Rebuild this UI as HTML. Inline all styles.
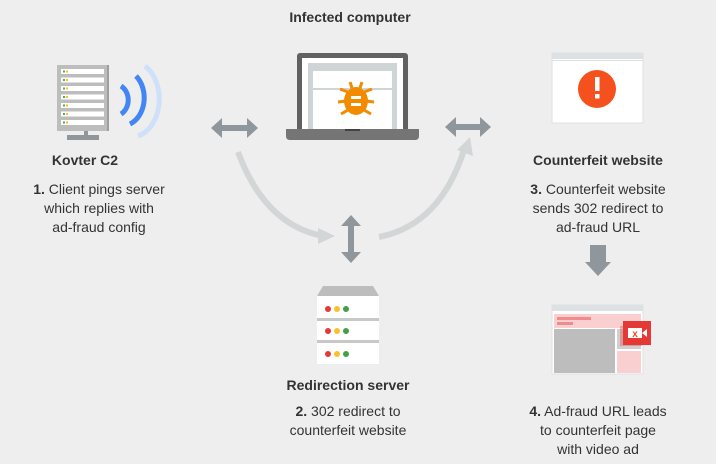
<!DOCTYPE html>
<html><head><meta charset="utf-8"><style>
html,body{margin:0;padding:0;background:#eeeeee;}
svg{display:block;font-family:"Liberation Sans",sans-serif;}
</style></head><body>
<svg width="716" height="464" viewBox="0 0 716 464">
<rect width="716" height="464" fill="#eeeeee"/>
<g fill="#333" font-size="14" text-anchor="middle">
<text x="350" y="22" font-weight="bold">Infected computer</text>
<text x="85" y="165" font-weight="bold">Kovter C2</text>
<text x="99" y="194"><tspan font-weight="bold">1.</tspan> Client pings server</text>
<text x="99" y="213">which replies with</text>
<text x="99" y="232">ad-fraud config</text>
<text x="598" y="165" font-weight="bold">Counterfeit website</text>
<text x="598" y="194"><tspan font-weight="bold">3.</tspan> Counterfeit website</text>
<text x="598" y="213">sends 302 redirect to</text>
<text x="598" y="232">ad-fraud URL</text>
<text x="348" y="390" font-weight="bold">Redirection server</text>
<text x="348" y="416"><tspan font-weight="bold">2.</tspan> 302 redirect to</text>
<text x="348" y="435">counterfeit website</text>
<text x="598" y="416"><tspan font-weight="bold">4.</tspan> Ad-fraud URL leads</text>
<text x="598" y="435">to counterfeit page</text>
<text x="598" y="454">with video ad</text>
</g>
<!-- Kovter server -->
<rect x="57" y="65" width="52" height="66" fill="#bdbdbd"/>
<rect x="107" y="65" width="2" height="66" fill="#9e9e9e"/>
<g fill="#fff">
<rect x="61" y="69" width="43" height="5"/><rect x="61" y="77.5" width="43" height="5"/><rect x="61" y="86" width="43" height="5"/><rect x="61" y="94.5" width="43" height="5"/><rect x="61" y="103" width="43" height="5"/><rect x="61" y="111.5" width="43" height="5"/><rect x="61" y="120" width="43" height="5"/>
</g>
<g fill="#4caf50"><rect x="63" y="70.5" width="2" height="2"/><rect x="63" y="79" width="2" height="2"/><rect x="63" y="87.5" width="2" height="2"/><rect x="63" y="96" width="2" height="2"/><rect x="63" y="104.5" width="2" height="2"/><rect x="63" y="113" width="2" height="2"/><rect x="63" y="121.5" width="2" height="2"/></g>
<g fill="#fbc02d"><rect x="66" y="70.5" width="2" height="2"/><rect x="66" y="79" width="2" height="2"/><rect x="66" y="87.5" width="2" height="2"/><rect x="66" y="96" width="2" height="2"/><rect x="66" y="104.5" width="2" height="2"/><rect x="66" y="113" width="2" height="2"/><rect x="66" y="121.5" width="2" height="2"/></g>
<rect x="84" y="131" width="4" height="6" fill="#8f969c"/>
<rect x="67" y="135" width="32" height="5" fill="#8f969c"/>
<!-- waves -->
<g fill="none" stroke-linecap="butt">
<path d="M121 86 A14 16 0 0 1 121 114" stroke="#4285f4" stroke-width="5"/>
<path d="M136 76 A22 28 0 0 1 130 124" stroke="#4285f4" stroke-width="5"/>
<path d="M145 66 A28 38 0 0 1 138 136" stroke="#cfe0fb" stroke-width="5"/>
</g>
<!-- horizontal arrows -->
<g fill="#8f969c">
<path d="M211 128 L222 118 L222 125 L247 125 L247 118 L258 128 L247 138 L247 131 L222 131 L222 138 Z"/>
<path d="M445 127 L456 117 L456 124 L480 124 L480 117 L491 127 L480 137 L480 130 L456 130 L456 137 Z"/>
<path d="M351 215 L361 226 L354 226 L354 252 L361 252 L351 263 L341 252 L348 252 L348 226 L341 226 Z"/>
<path d="M590 245 L606 245 L606 262 L611 262 L598 276 L585 262 L590 262 Z"/>
</g>
<!-- laptop -->
<rect x="297" y="53" width="111" height="80" rx="3" fill="#616161"/>
<rect x="302" y="58" width="101" height="72" fill="#fff"/>
<rect x="308" y="63" width="89" height="67" fill="#cfd4d6"/>
<rect x="313" y="71" width="79" height="59" fill="#fff"/>
<rect x="313" y="88" width="79" height="2" fill="#cfd4d6"/>
<path d="M286 129 L419 129 L419 136 Q419 140 415 140 L290 140 Q286 140 286 136 Z" fill="#757575"/>
<rect x="345" y="129" width="15" height="2" fill="#424242"/>
<!-- bug -->
<g fill="#f28b00">
<ellipse cx="356" cy="101" rx="12" ry="14"/>
<g stroke="#f28b00" stroke-width="3">
<line x1="348" y1="92" x2="340" y2="89"/><line x1="364" y1="92" x2="372" y2="89"/>
<line x1="346" y1="101" x2="338" y2="102"/><line x1="366" y1="101" x2="374" y2="102"/>
<line x1="348" y1="110" x2="341" y2="114"/><line x1="364" y1="110" x2="371" y2="114"/>
<line x1="352" y1="88" x2="350" y2="82"/><line x1="360" y1="88" x2="362" y2="82"/>
</g>
<rect x="351" y="96" width="10" height="3" fill="#fff"/>
<rect x="351" y="103" width="10" height="3" fill="#fff"/>
</g>
<!-- counterfeit browser -->
<rect x="552" y="53" width="91" height="70" fill="#fff" stroke="#dde1e3" stroke-width="1"/>
<rect x="552" y="53" width="91" height="6" fill="#dde1e3"/>
<rect x="552" y="60" width="91" height="1" fill="#dde1e3"/>
<circle cx="597" cy="89" r="19" fill="#f4511e"/>
<rect x="595" y="77" width="4.5" height="14" fill="#fff"/>
<rect x="595" y="94" width="4.5" height="4.5" fill="#fff"/>
<!-- curves -->
<g fill="none" stroke="#d3d6d6" stroke-width="6">
<path d="M238 152 Q265 225 323 236"/>
<path d="M379 237 Q440 225 464 150"/>
</g>
<path d="M318 228 L335 236 L318 244 Z" fill="#d3d6d6"/>
<path d="M457 150 L470 137 L473 156 Z" fill="#d3d6d6"/>
<!-- redirection server -->
<path d="M323 286 L373 286 L379 296 L317 296 Z" fill="#bdbdbd"/>
<rect x="317" y="296" width="62" height="22" fill="#fff"/>
<rect x="317" y="318" width="62" height="3" fill="#c8c8c8"/>
<rect x="317" y="321" width="62" height="19" fill="#fff"/>
<rect x="317" y="340" width="62" height="3" fill="#c8c8c8"/>
<rect x="317" y="343" width="62" height="21" rx="1" fill="#fff"/>
<g><circle cx="328" cy="309" r="3" fill="#e53935"/><circle cx="337" cy="309" r="3" fill="#fbc02d"/><circle cx="346" cy="309" r="3" fill="#43a047"/>
<circle cx="328" cy="331" r="3" fill="#e53935"/><circle cx="337" cy="331" r="3" fill="#fbc02d"/><circle cx="346" cy="331" r="3" fill="#43a047"/>
<circle cx="328" cy="354" r="3" fill="#e53935"/><circle cx="337" cy="354" r="3" fill="#fbc02d"/><circle cx="346" cy="354" r="3" fill="#43a047"/></g>
<!-- ad browser -->
<rect x="552" y="305" width="91" height="69" fill="#fff" stroke="#dde1e3"/>
<rect x="552" y="305" width="91" height="6" fill="#dde1e3"/>
<rect x="554" y="314" width="87" height="14" fill="#f9cfcf"/>
<rect x="557" y="317" width="34" height="3" fill="#f28b8b"/>
<rect x="557" y="322" width="16" height="3" fill="#f28b8b"/>
<rect x="554" y="329" width="61" height="44" fill="#bdbdbd"/>
<rect x="617" y="329" width="24" height="20" fill="#d0d0d0"/>
<rect x="617" y="351" width="24" height="22" fill="#f9cfcf"/>
<rect x="620" y="326" width="22" height="20" fill="#d66" opacity="0.5"/>
<rect x="623" y="321" width="28" height="24" fill="#e53935"/>
<rect x="628" y="328" width="14" height="10" fill="#fff"/>
<path d="M642 333 L647 329 L647 337 Z" fill="#fff"/>
<text x="635" y="337" font-size="10" font-weight="bold" fill="#f4511e" text-anchor="middle">x</text>
</svg>
</body></html>
